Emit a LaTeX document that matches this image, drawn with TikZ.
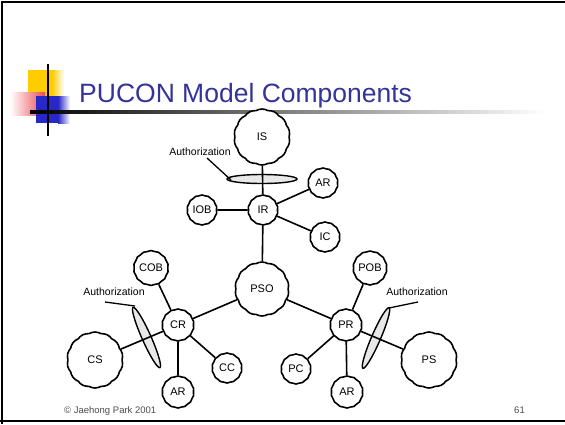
\documentclass[tikz,border=0pt]{standalone}
\usepackage{fontspec}
\setmainfont{Liberation Sans}
\usetikzlibrary{shapes.symbols}
\definecolor{titleblue}{RGB}{51,51,153}
\definecolor{logoyellow}{RGB}{255,204,0}
\definecolor{logored}{RGB}{230,30,40}
\definecolor{logoblue}{RGB}{40,40,200}
\tikzset{
  comp/.style={cloud, cloud puffs=14, cloud puff arc=60, aspect=1, draw, line width=1.6pt,
    inner sep=0pt, font=\fontsize{11}{13}\selectfont, fill=white},
  small/.style={comp, minimum width=30pt, minimum height=30pt},
  big/.style={comp, minimum width=56pt, minimum height=56pt},
  link/.style={line width=1.6pt},
  authbox/.style={draw, line width=1.4pt, fill=gray!18},
  authlabel/.style={font=\fontsize{10.5}{12}\selectfont, inner sep=0pt},
  leader/.style={line width=1.3pt}
}
\begin{document}
\begin{tikzpicture}[x=1pt,y=-1pt]
\useasboundingbox (0,0) rectangle (565,424);
% frame
\draw[line width=2pt] (2,424) -- (2,2) -- (565,2);
\draw[line width=2pt] (0,421) -- (565,421);
% logo
\fill[logoyellow] (28,70) rectangle (52,97);
\shade[left color=logoyellow, right color=white] (52,70) rectangle (64,97);
\shade[left color=white, right color=logored!80] (10,92) rectangle (45,115);
\fill[logoblue] (36,96) rectangle (58,123);
\shade[left color=logoblue, right color=white] (58,96) rectangle (70,123);
\shade[left color=black, right color=white] (30,110.5) rectangle (545,113);
\draw[line width=1.5pt] (48,64) -- (48,136);
% title
\node[anchor=base west, inner sep=0pt, text=titleblue, font=\fontsize{26.5}{31}\selectfont] (title) at (79,102) {PUCON Model Components};
% authorization shapes
\draw[authbox] (262,179) ellipse (35 and 4.5);
\begin{scope}[shift={(146.5,337.5)}, rotate=-66]
\draw[authbox] (0,0) ellipse (33 and 4.5);
\end{scope}
\begin{scope}[shift={(376,338)}, rotate=66.6]
\draw[authbox] (0,0) ellipse (33 and 4.5);
\end{scope}
% nodes
\node[big] (IS) at (262,137) {IS};
\node[small] (IR) at (263,210) {IR};
\node[small] (AR1) at (323,183) {AR};
\node[small] (IOB) at (202,210) {IOB};
\node[small] (IC) at (325,237) {IC};
\node[comp, minimum width=54pt, minimum height=54pt] (PSO) at (262,289) {PSO};
\node[small] (COB) at (151,268) {COB};
\node[small, minimum width=32pt, minimum height=32pt] (CR) at (178,325) {CR};
\node[big] (CS) at (95,360) {CS};
\node[small] (CC) at (227,368) {CC};
\node[small, minimum width=32pt, minimum height=32pt] (AR2) at (178,392) {AR};
\node[small, minimum width=32pt, minimum height=32pt] (POB) at (370,268) {POB};
\node[small, minimum width=32pt, minimum height=32pt] (PR) at (346,325) {PR};
\node[small] (PC) at (296,369) {PC};
\node[small, minimum width=32pt, minimum height=32pt] (AR3) at (347,392) {AR};
\node[big] (PS) at (429,360) {PS};
% links
\draw[link] (IS) -- (IR);
\draw[link] (IR) -- (AR1);
\draw[link] (IR) -- (IOB);
\draw[link] (IR) -- (IC);
\draw[link] (IR) -- (PSO);
\draw[link] (PSO) -- (CR);
\draw[link] (PSO) -- (PR);
\draw[link] (CR) -- (COB);
\draw[link] (CR) -- (CS);
\draw[link] (CR) -- (CC);
\draw[link] (CR) -- (AR2);
\draw[link] (PR) -- (POB);
\draw[link] (PR) -- (PC);
\draw[link] (PR) -- (AR3);
\draw[link] (PR) -- (PS);
% authorization labels
\node[authlabel] (auth1) at (200,152) {Authorization};
\coordinate (a1s) at (207,158);
\coordinate (a1e) at (231,180);
\draw[leader] (a1s) -- (a1e);
\node[authlabel] (auth2) at (114,292) {Authorization};
\coordinate (a2s) at (105,302);
\coordinate (a2e) at (135,306);
\draw[leader] (a2s) -- (a2e);
\node[authlabel] (auth3) at (417,292) {Authorization};
\coordinate (a3s) at (418,302);
\coordinate (a3e) at (389,308);
\draw[leader] (a3s) -- (a3e);
% footer
\node[anchor=base west, inner sep=0pt, text=black!70, font=\fontsize{9.5}{11}\selectfont] (foot) at (64,413) {\textcopyright{} Jaehong Park 2001};
\node[anchor=base east, inner sep=0pt, text=black!70, font=\fontsize{9.5}{11}\selectfont] (page) at (525,413) {61};
\end{tikzpicture}
\end{document}
